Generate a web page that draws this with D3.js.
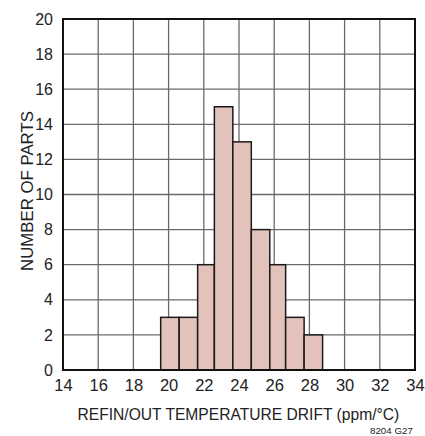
<!DOCTYPE html>
<html>
<head>
<meta charset="utf-8">
<script src="https://cdn.jsdelivr.net/npm/d3@7"></script>
<style>
  html, body { margin: 0; padding: 0; background: #fff; }
  svg text { font-family: "Liberation Sans", Arial, sans-serif; fill: #222; }
</style>
</head>
<body>
<svg id="chart" width="425" height="436"></svg>
<script>
// Histogram bins: lower/upper drift edges (ppm/°C) and part counts
const binStart = [19.55, 20.6, 21.65, 22.6, 23.65, 24.7, 25.75, 26.65, 27.7];
const binEnd   = [20.6, 21.65, 22.6, 23.65, 24.7, 25.75, 26.65, 27.7, 28.75];
const counts   = [3, 3, 6, 15, 13, 8, 6, 3, 2];

const xTicks = [14, 16, 18, 20, 22, 24, 26, 28, 30, 32, 34];
const yTicks = [0, 2, 4, 6, 8, 10, 12, 14, 16, 18, 20];

const svg = d3.select("#chart");
const m = { left: 63, right: 415, top: 19, bottom: 370 };

const x = d3.scaleLinear().domain([14, 34]).range([m.left, m.right]);
const y = d3.scaleLinear().domain([0, 20]).range([m.bottom, m.top]);

// grid
const grid = svg.append("g");
grid.selectAll("line.v").data(xTicks.slice(1, -1)).join("line")
  .attr("x1", d => x(d)).attr("x2", d => x(d))
  .attr("y1", m.top).attr("y2", m.bottom)
  .attr("stroke", "#6a6a6a").attr("stroke-width", 1.3);
grid.selectAll("line.h").data(yTicks.slice(1, -1)).join("line")
  .attr("y1", d => y(d)).attr("y2", d => y(d))
  .attr("x1", m.left).attr("x2", m.right)
  .attr("stroke", "#6a6a6a").attr("stroke-width", 1.3);

// bars
const bins = counts.map((c, i) => ({ x0: binStart[i], x1: binEnd[i], n: c }));
svg.append("g").selectAll("rect").data(bins).join("rect")
  .attr("x", d => x(d.x0))
  .attr("width", d => x(d.x1) - x(d.x0))
  .attr("y", d => y(d.n))
  .attr("height", d => y(0) - y(d.n))
  .attr("fill", "#e3c2bc")
  .attr("stroke", "#1a1a1a")
  .attr("stroke-width", 1.5);

// frame
svg.append("rect")
  .attr("x", m.left).attr("y", m.top)
  .attr("width", m.right - m.left).attr("height", m.bottom - m.top)
  .attr("fill", "none").attr("stroke", "#111").attr("stroke-width", 2);

// tick labels
const font = "\"Liberation Sans\", Arial, sans-serif";
const xAxis = d3.axisBottom(x).tickValues(xTicks).tickSize(0).tickPadding(9);
const gx = svg.append("g").attr("transform", `translate(0,${m.bottom})`).call(xAxis);
gx.select(".domain").remove();
gx.selectAll("text").attr("font-size", 16.5).attr("fill", "#222").style("font-family", font);

const yAxis = d3.axisLeft(y).tickValues(yTicks).tickSize(0).tickPadding(10);
const gy = svg.append("g").attr("transform", `translate(${m.left},0)`).call(yAxis);
gy.select(".domain").remove();
gy.selectAll("text").attr("font-size", 16).attr("fill", "#222").style("font-family", font);

// narrow lettering: squeeze a text horizontally to a target width
function narrowText(str, size, width, tx, ty, rot) {
  const t = svg.append("text").attr("font-size", size).text(str);
  const natural = t.node().getComputedTextLength();
  const k = width / natural;
  t.attr("transform", `translate(${tx},${ty}) rotate(${rot}) scale(${k},1)`);
  return t;
}

narrowText("REFIN/OUT TEMPERATURE DRIFT (ppm/°C)", 17, 322, 77.5, 419.5, 0);
narrowText("NUMBER OF PARTS", 17, 160, 33, 271, -90);
narrowText("8204 G27", 9.5, 43, 370, 434, 0);
</script>
</body>
</html>
